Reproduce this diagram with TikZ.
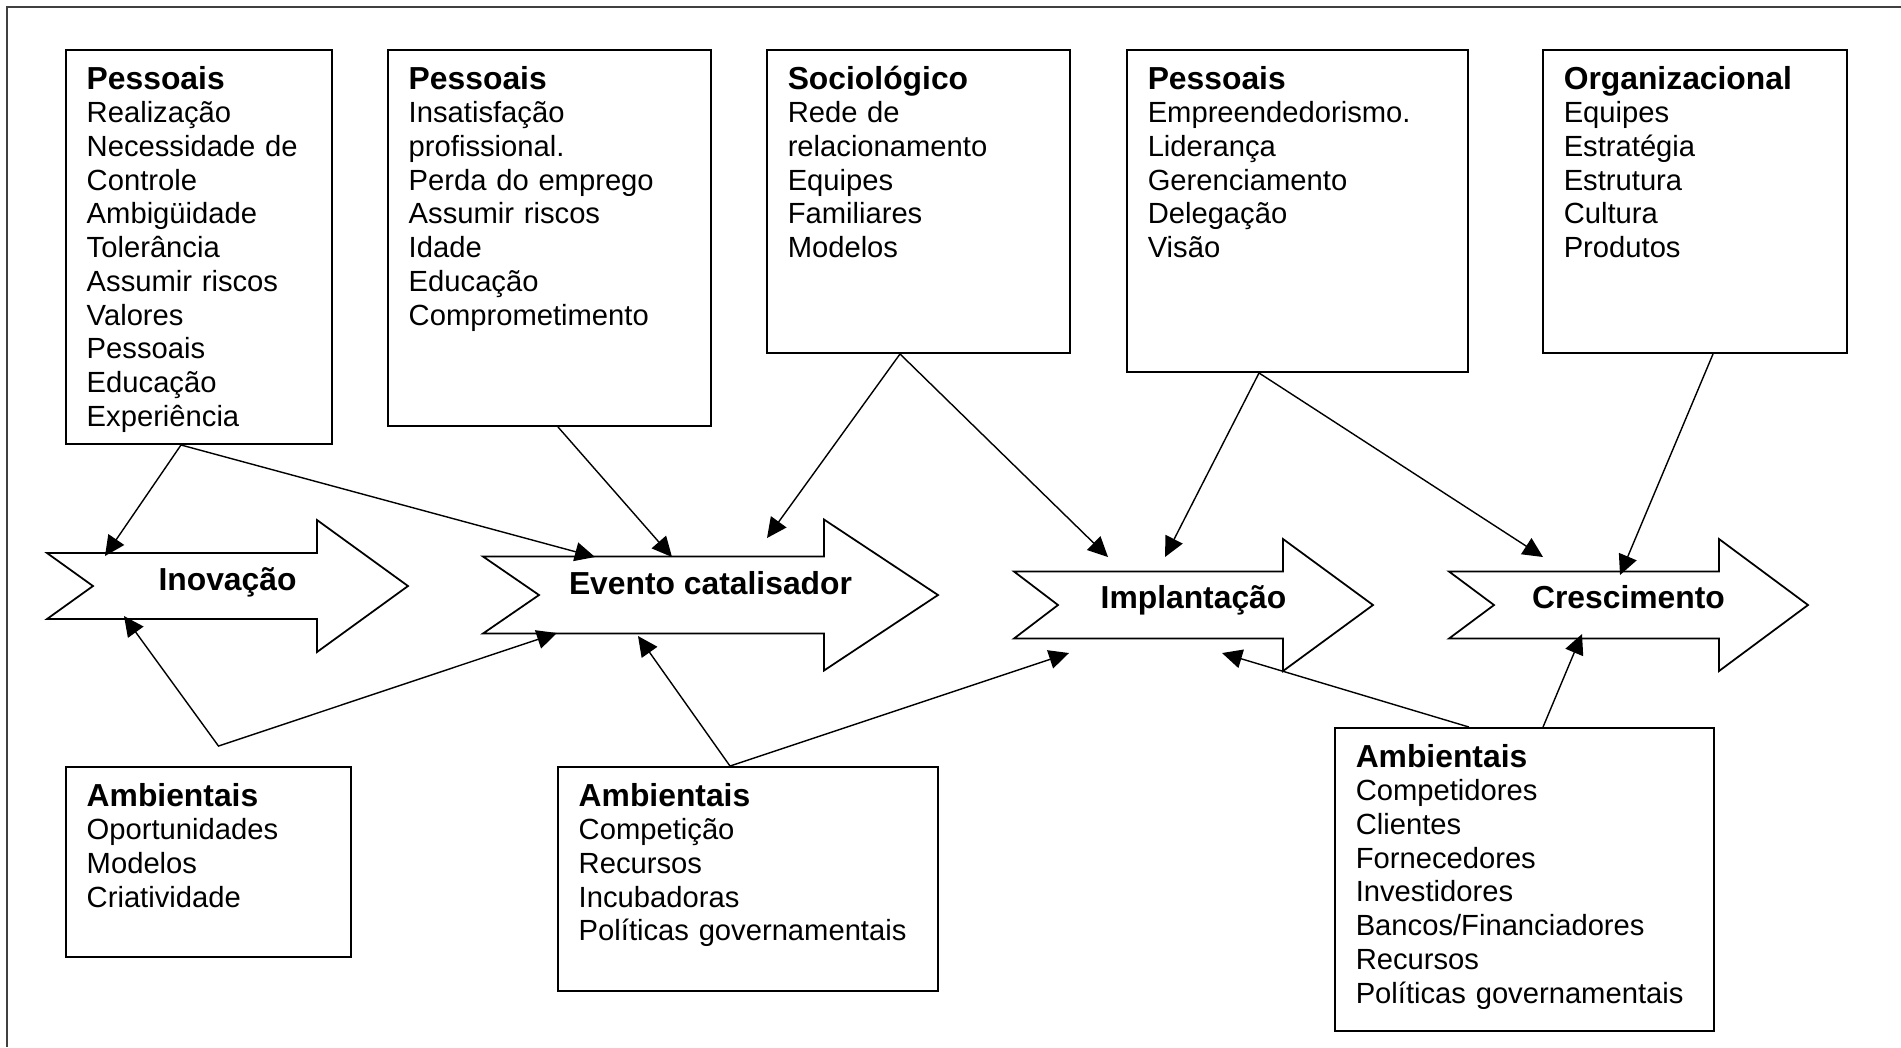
\documentclass[tikz,border=0pt]{standalone}
\usepackage{fontspec}
\setmainfont{Liberation Sans}
\usetikzlibrary{arrows.meta, fit, calc}

\newcommand{\factorhead}[1]{{\fontsize{9.05}{9.59}\selectfont\bfseries #1}}

\begin{document}
\begin{tikzpicture}[x=0.01cm, y=-0.01cm,
    factorbox/.style={draw, line width=0.55pt, inner sep=0pt},
    factortext/.style={anchor=base west, inner sep=0pt, text width=3.8cm, align=left, font=\fontsize{8.3}{9.59}\selectfont},
    stage/.style={draw, fill=white, line width=0.5pt},
    stagelabel/.style={anchor=base, inner sep=0pt, font=\fontsize{9.05}{10}\selectfont\bfseries},
    link/.style={-{Triangle[length=2mm, width=1.9mm]}, line width=0.4pt},
    twolink/.style={{Triangle[length=2mm, width=1.9mm]}-{Triangle[length=2mm, width=1.9mm]}, line width=0.4pt},
    frame/.style={draw=black!75, line width=0.6pt}
  ]
  \useasboundingbox (0,0) rectangle (1901,1047);
  \draw[frame] (1901,7) -| (7,1047);

  % factor boxes, top row
  \node[factorbox, fit={(66,50) (332,444)}] (pess1) {};
  \node[factortext] at ([shift={(21,40)}]pess1.north west) {\factorhead{Pessoais}\\Realização\\Necessidade de\\Controle\\Ambigüidade\\Tolerância\\Assumir riscos\\Valores\\Pessoais\\Educação\\Experiência};
  \node[factorbox, fit={(388,50) (711,426)}] (pess2) {};
  \node[factortext] at ([shift={(21,40)}]pess2.north west) {\factorhead{Pessoais}\\Insatisfação\\profissional.\\Perda do emprego\\Assumir riscos\\Idade\\Educação\\Comprometimento};
  \node[factorbox, fit={(767,50) (1070,353)}] (socio) {};
  \node[factortext] at ([shift={(21,40)}]socio.north west) {\factorhead{Sociológico}\\Rede de\\relacionamento\\Equipes\\Familiares\\Modelos};
  \node[factorbox, fit={(1127,50) (1468,372)}] (pess3) {};
  \node[factortext] at ([shift={(21,40)}]pess3.north west) {\factorhead{Pessoais}\\Empreendedorismo.\\Liderança\\Gerenciamento\\Delegação\\Visão};
  \node[factorbox, fit={(1543,50) (1847,353)}] (org) {};
  \node[factortext] at ([shift={(21,40)}]org.north west) {\factorhead{Organizacional}\\Equipes\\Estratégia\\Estrutura\\Cultura\\Produtos};

  % factor boxes, bottom row
  \node[factorbox, fit={(66,767) (351,957)}] (amb1) {};
  \node[factortext] at ([shift={(21,40)}]amb1.north west) {\factorhead{Ambientais}\\Oportunidades\\Modelos\\Criatividade};
  \node[factorbox, fit={(558,767) (938,991)}] (amb2) {};
  \node[factortext] at ([shift={(21,40)}]amb2.north west) {\factorhead{Ambientais}\\Competição\\Recursos\\Incubadoras\\Políticas governamentais};
  \node[factorbox, fit={(1335,728) (1714,1031)}] (amb3) {};
  \node[factortext] at ([shift={(21,40)}]amb3.north west) {\factorhead{Ambientais}\\Competidores\\Clientes\\Fornecedores\\Investidores\\Bancos/Financiadores\\Recursos\\Políticas governamentais};

  % notched stage arrows
  \foreach \xa/\xn/\xb/\xc/\yc/\sh/\hh/\yb/\nm/\txt in {
      47/93/317/408/586/33/66/590/inov/Inovação,
      483/539/824/938/595/38.5/75.5/594/evento/Evento catalisador,
      1014/1058/1283/1373/605/33.5/66/608/impl/Implantação,
      1449/1494/1719/1808/605/33.5/66/608/cresc/Crescimento}{
    \draw[stage] (\xa,\yc-\sh) -- (\xb,\yc-\sh) -- (\xb,\yc-\hh) -- (\xc,\yc)
      -- (\xb,\yc+\hh) -- (\xb,\yc+\sh) -- (\xa,\yc+\sh) -- (\xn,\yc) -- cycle;
    \node[stagelabel] (\nm) at ({(\xa+\xc)/2},\yb) {\txt};
  }

  % where the connectors meet the stages
  \coordinate (inov-a) at (105,556);
  \coordinate (inov-b) at (124,616);
  \coordinate (evento-a) at (595,557);
  \coordinate (evento-b) at (672,557);
  \coordinate (evento-c) at (767,538);
  \coordinate (evento-d) at (557,633);
  \coordinate (evento-e) at (638,636);
  \coordinate (impl-a) at (1108,557);
  \coordinate (impl-b) at (1165,557);
  \coordinate (impl-c) at (1069,653);
  \coordinate (impl-d) at (1222,653);
  \coordinate (cresc-a) at (1543,557);
  \coordinate (cresc-b) at (1620,575);
  \coordinate (cresc-c) at (1582,634);
  \coordinate (amb1-bend) at ([shift={(10,-20)}]amb1.north);

  \draw[link] ([shift={(-18,0)}]pess1.south) -- (inov-a);
  \draw[link] ([shift={(-18,0)}]pess1.south) -- (evento-a);
  \draw[link] ([shift={(8.5,0)}]pess2.south) -- (evento-b);
  \draw[link] ([shift={(-18.5,0)}]socio.south) -- (evento-c);
  \draw[link] ([shift={(-18.5,0)}]socio.south) -- (impl-a);
  \draw[link] ([shift={(-38.5,0)}]pess3.south) -- (impl-b);
  \draw[link] ([shift={(-38.5,0)}]pess3.south) -- (cresc-a);
  \draw[link] ([shift={(18,0)}]org.south) -- (cresc-b);
  \draw[twolink] (inov-b) -- (amb1-bend) -- (evento-d);
  \draw[link] ([shift={(-18,0)}]amb2.north) -- (evento-e);
  \draw[link] ([shift={(-18,0)}]amb2.north) -- (impl-c);
  \draw[link] ([shift={(-55.5,0)}]amb3.north) -- (impl-d);
  \draw[link] ([shift={(18.5,0)}]amb3.north) -- (cresc-c);
\end{tikzpicture}
\end{document}
